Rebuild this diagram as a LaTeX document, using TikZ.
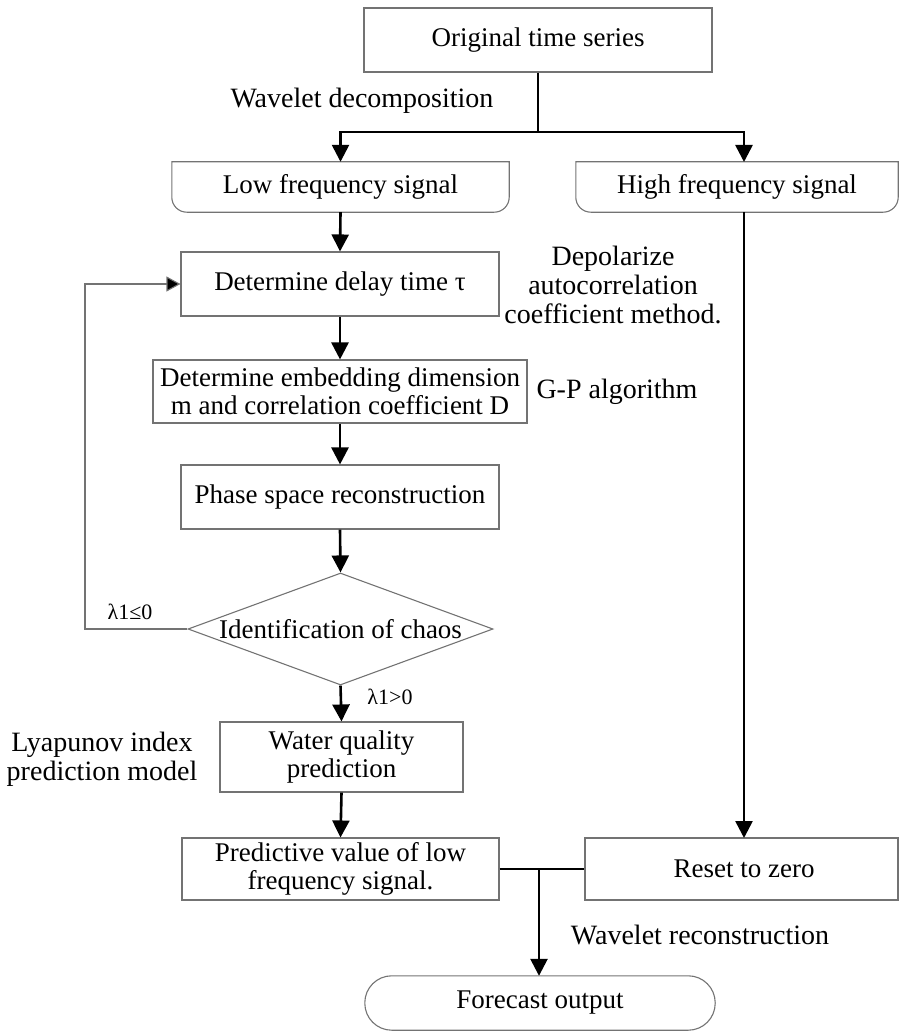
\documentclass[tikz,border=0pt]{standalone}
\usepackage{fontspec}
\setmainfont{Liberation Serif}
\usetikzlibrary{arrows.meta,shapes.geometric}
\begin{document}
\begin{tikzpicture}[x=1pt,y=-1pt,
  font=\fontsize{27}{28}\selectfont,
  box/.style={draw=black!55,line width=1.1pt,minimum width=#1,inner sep=0pt,align=center},
  plain/.style={draw=none,inner sep=0pt,align=center},
  conn/.style={line width=2.6pt,-{Triangle[length=17pt,width=17pt]}},
  seg/.style={line width=2.6pt},
  shape1/.style={draw=black!55,line width=1.1pt},
  lbl/.style={inner sep=0pt,align=center,font=\fontsize{28}{29}\selectfont},
  small/.style={inner sep=0pt,font=\fontsize{22}{24}\selectfont}]
\useasboundingbox (0,0) rectangle (900,1035);
% nodes
\node[box=348pt,minimum height=64pt] (orig) at (538,40) {Original time series};
\node[plain,minimum width=337pt,minimum height=50pt] (low) at (340.5,187) {Low frequency signal};
\node[plain,minimum width=322pt,minimum height=50pt] (high) at (737,187) {High frequency signal};
\node[box=318pt,minimum height=64pt] (delay) at (340,284) {Determine delay time τ};
\node[box=374pt,minimum height=63pt] (embed) at (340,391.5) {Determine embedding dimension\\m and correlation coefficient D};
\node[box=318pt,minimum height=64pt] (phase) at (340,497) {Phase space reconstruction};
\node[diamond,draw=black!55,line width=1.1pt,minimum width=305pt,minimum height=112pt,inner sep=0pt] (chaos) at (340.5,629) {};
\node[plain] at (chaos) {Identification of chaos};
\node[box=243pt,minimum height=70pt] (water) at (341.5,757) {Water quality\\prediction};
\node[box=317pt,minimum height=62pt] (pred) at (340.5,869) {Predictive value of low\\frequency signal.};
\node[box=313pt,minimum height=62pt] (reset) at (741.5,869) {};
\node[plain] at (744,869) {Reset to zero};
\node[plain,minimum width=350pt,minimum height=54pt] (fore) at (540,1003) {Forecast output};
% rounded shapes
\draw[shape1] (low.north west) -- ([yshift=15pt]low.south west) arc[start angle=180,end angle=270,radius=15pt] -- ([xshift=-15pt]low.south east) arc[start angle=270,end angle=360,radius=15pt] -- (low.north east) -- cycle;
\draw[shape1] (high.north west) -- ([yshift=15pt]high.south west) arc[start angle=180,end angle=270,radius=15pt] -- ([xshift=-15pt]high.south east) arc[start angle=270,end angle=360,radius=15pt] -- (high.north east) -- cycle;
\draw[shape1,rounded corners=27pt] (fore.north west) rectangle (fore.south east);
% labels
\node[lbl] at (362,101) {Wavelet decomposition};
\node[lbl] at (613,285) {Depolarize\\autocorrelation\\coefficient method.};
\node[lbl] at (617,392) {G-P algorithm};
\node[small] at (130,612) {λ1≤0};
\node[small] at (390,697) {λ1>0};
\node[lbl] at (102,759) {Lyapunov index\\prediction model};
\node[lbl] at (700,935) {Wavelet reconstruction};
% connectors
\coordinate (split) at (538,132);
\coordinate (join) at (539,869);
\draw[seg] (orig.south) -- (split);
\draw[conn] (split) -| (low.north);
\draw[conn] (split) -| (744,162);
\draw[conn] (744,212) -- (744,838);
\draw[conn] (low.south) -- (delay.north);
\draw[conn] (delay.south) -- (embed.north);
\draw[conn] (embed.south) -- (phase.north);
\draw[conn] (phase.south) -- (chaos.north);
\draw[conn] (chaos.south) -- (water.north);
\draw[conn] (water.south) -- (pred.north);
\draw[draw=black!55,line width=1.1pt,-{Triangle[length=14pt,width=15pt,fill=black]}] (chaos.west) -- (85,629) |- (delay.west);
\draw[seg] (pred.east) -- (reset.west);
\draw[conn] (join) -- (fore.north -| join);
\end{tikzpicture}
\end{document}
